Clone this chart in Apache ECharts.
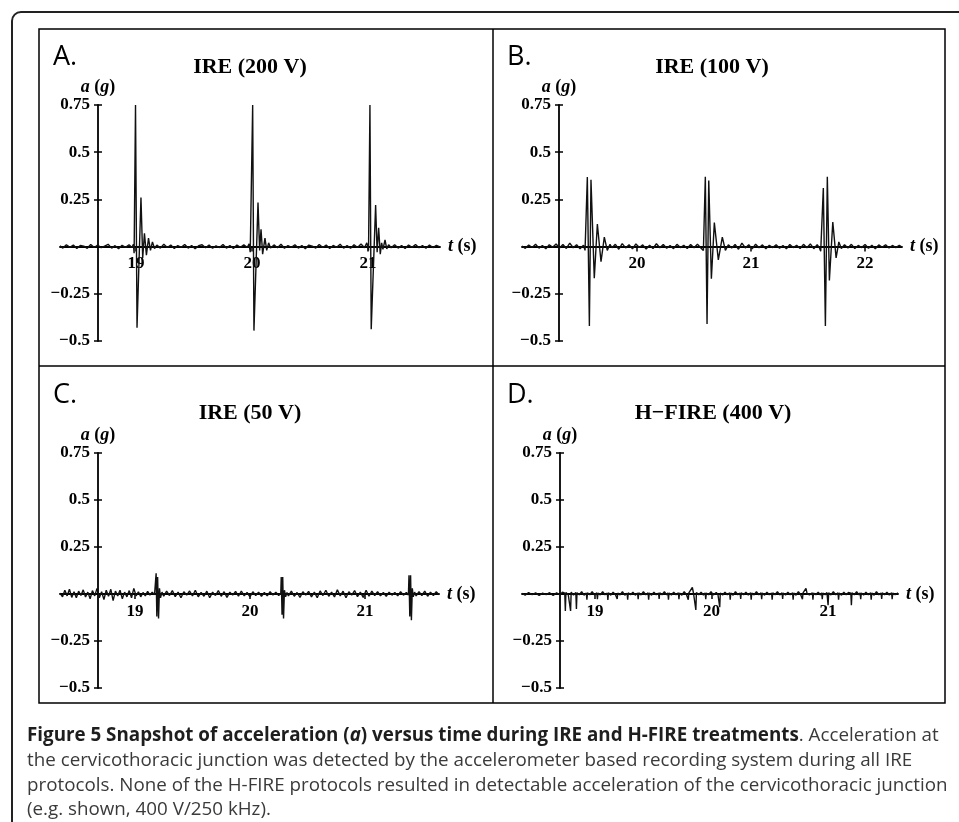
<!DOCTYPE html>
<html>
<head>
<meta charset="utf-8">
<script src="https://cdn.jsdelivr.net/npm/echarts@6/dist/echarts.min.js"></script>
<style>
html, body { margin: 0; padding: 0; background: #fff; }
#fig { width: 959px; height: 822px; }
</style>
</head>
<body>
<div id="fig"></div>
<script>
// panel texts
const panelLetters = ['A.', 'B.', 'C.', 'D.'];
const panelTitles = ['IRE (200 V)', 'IRE (100 V)', 'IRE (50 V)', 'H\u2212FIRE (400 V)'];
const timeTicks = [[19, 20, 21], [20, 21, 22], [19, 20, 21], [19, 20, 21]];
const accelMin = -0.5, accelMax = 0.75, accelStep = 0.25;

// acceleration traces [t (s), a (g)]
const accelA = [
  [18.345,0.004],[18.37,-0.008],[18.40,0.010],[18.43,-0.004],[18.46,0.008],[18.49,-0.010],[18.52,0.006],[18.55,0.002],
  [18.58,-0.009],[18.61,0.011],[18.64,-0.005],[18.67,0.008],[18.70,-0.006],[18.73,0.003],[18.76,0.012],[18.79,-0.008],
  [18.82,0.005],[18.85,-0.011],[18.88,0.007],[18.91,-0.004],[18.94,0.010],[18.965,-0.005],
  [18.978,0.012],[18.984,-0.035],[18.996,0.75],[19.009,-0.43],[19.043,0.26],[19.058,-0.06],[19.073,0.07],[19.09,-0.045],
  [19.108,0.045],[19.125,-0.02],[19.142,0.025],[19.16,-0.01],[19.18,0.008],
  [19.21,-0.008],[19.24,0.012],[19.27,-0.005],[19.30,0.008],[19.33,-0.010],[19.36,0.005],[19.39,-0.004],[19.42,0.011],
  [19.45,-0.008],[19.48,0.006],[19.51,-0.011],[19.54,0.005],[19.57,0.010],[19.60,-0.006],[19.63,0.008],[19.66,-0.009],
  [19.69,0.004],[19.72,-0.005],[19.75,0.011],[19.78,-0.008],[19.81,0.006],[19.84,-0.010],[19.87,0.008],[19.90,-0.004],
  [19.93,0.009],[19.96,-0.005],
  [19.975,0.015],[19.985,-0.03],[20.006,0.75],[20.017,-0.445],[20.052,0.233],[20.066,-0.02],[20.078,0.092],[20.092,-0.04],
  [20.112,0.045],[20.127,-0.02],[20.144,0.02],[20.16,-0.008],
  [20.19,0.009],[20.22,-0.006],[20.25,0.012],[20.28,-0.009],[20.31,0.005],[20.34,-0.004],[20.37,0.010],[20.40,-0.008],
  [20.43,0.006],[20.46,-0.011],[20.49,0.008],[20.52,0.002],[20.55,-0.008],[20.58,0.011],[20.61,-0.005],[20.64,0.008],
  [20.67,-0.010],[20.70,0.006],[20.73,-0.004],[20.76,0.012],[20.79,-0.008],[20.82,0.005],[20.85,-0.009],[20.88,0.010],
  [20.91,-0.005],[20.94,0.014],[20.97,-0.006],[20.99,0.02],
  [21.005,-0.02],[21.017,0.75],[21.028,-0.438],[21.066,0.22],[21.079,-0.03],[21.092,0.10],[21.106,-0.04],[21.118,0.02],
  [21.129,-0.015],[21.147,0.035],[21.162,-0.012],[21.178,0.01],
  [21.20,-0.006],[21.23,0.010],[21.26,-0.008],[21.29,0.006],[21.32,-0.010],[21.35,0.008],[21.38,-0.004],[21.41,0.011],
  [21.44,-0.006],[21.47,0.005],[21.50,-0.009],[21.53,0.008],[21.56,-0.005],[21.59,0.006],[21.62,-0.002]
];

const accelB = [
  [18.991,0.003],[19.02,-0.009],[19.05,0.008],[19.08,-0.005],[19.11,0.012],[19.14,-0.008],[19.17,0.006],[19.20,-0.012],
  [19.23,0.010],[19.26,-0.004],[19.29,0.014],[19.32,-0.007],[19.35,0.011],[19.38,-0.010],[19.41,0.018],[19.44,-0.006],
  [19.47,0.010],[19.50,-0.011],[19.53,0.007],
  [19.544,-0.02],[19.564,0.368],[19.582,-0.42],[19.596,0.354],[19.625,-0.168],[19.652,0.12],[19.684,-0.08],[19.713,0.05],
  [19.739,-0.02],[19.763,0.012],[19.78,-0.006],
  [19.81,0.012],[19.84,-0.014],[19.87,0.016],[19.90,-0.007],[19.93,0.010],[19.96,-0.012],[19.99,0.014],[20.02,-0.005],
  [20.05,0.009],[20.08,-0.013],[20.11,0.007],[20.14,-0.010],[20.17,0.015],[20.20,-0.006],[20.23,0.011],[20.26,-0.009],
  [20.29,0.006],[20.32,-0.011],[20.35,0.012],[20.38,-0.005],[20.41,0.007],[20.44,-0.010],[20.47,0.011],[20.50,-0.006],
  [20.53,0.013],[20.56,-0.007],
  [20.582,-0.02],[20.599,0.37],[20.614,-0.41],[20.629,0.35],[20.652,-0.17],[20.678,0.127],[20.713,-0.07],[20.748,0.05],
  [20.775,-0.02],[20.801,0.01],
  [20.83,-0.008],[20.86,0.011],[20.89,-0.014],[20.92,0.018],[20.95,-0.007],[20.98,0.010],[21.01,-0.012],[21.04,0.013],
  [21.07,-0.006],[21.10,0.009],[21.13,-0.011],[21.16,0.007],[21.19,-0.005],[21.22,0.010],[21.25,-0.009],[21.28,0.006],
  [21.31,-0.012],[21.34,0.011],[21.37,-0.005],[21.40,0.007],[21.43,-0.010],[21.46,0.012],[21.49,-0.006],[21.52,0.014],
  [21.55,-0.011],[21.58,0.010],[21.60,-0.007],
  [21.611,-0.025],[21.634,0.31],[21.652,-0.42],[21.669,0.37],[21.687,-0.18],[21.717,0.13],[21.746,-0.06],[21.77,0.025],
  [21.792,-0.01],
  [21.82,0.010],[21.85,-0.007],[21.88,0.012],[21.91,-0.010],[21.94,0.006],[21.97,-0.005],[22.00,0.011],[22.03,-0.009],
  [22.06,0.007],[22.09,-0.011],[22.12,0.009],[22.15,-0.004],[22.18,0.010],[22.21,-0.007],[22.24,0.006],[22.27,-0.005],
  [22.30,0.007],[22.324,-0.002]
];

const accelC = [
  [18.348,0.005],[18.37,-0.015],[18.39,0.02],[18.41,-0.01],[18.43,0.025],[18.45,-0.018],[18.47,0.012],[18.49,-0.02],
  [18.51,0.015],[18.53,-0.008],[18.55,0.022],[18.57,-0.016],[18.59,0.01],[18.61,-0.025],[18.63,0.018],[18.65,-0.01],
  [18.67,0.03],[18.69,-0.02],[18.71,0.012],[18.73,-0.03],[18.75,0.02],[18.77,-0.012],[18.79,0.025],[18.81,-0.035],
  [18.83,0.015],[18.85,-0.01],[18.87,0.02],[18.89,-0.025],[18.91,0.01],[18.93,-0.015],[18.95,0.018],[18.97,-0.02],
  [18.99,0.03],[19.01,-0.01],[19.03,0.012],[19.05,-0.015],[19.07,0.008],[19.09,-0.01],[19.11,0.014],[19.13,-0.006],
  [19.15,0.01],[19.17,-0.004],
  [19.18,0.005],[19.184,0.11],[19.19,-0.12],[19.197,0.09],[19.205,-0.13],[19.213,0.03],[19.222,-0.02],[19.235,0.01],
  [19.25,-0.012],[19.275,0.015],[19.30,-0.008],[19.325,0.018],[19.35,-0.014],[19.375,0.01],[19.40,-0.02],[19.425,0.012],
  [19.45,-0.006],[19.475,0.016],[19.50,-0.01],[19.525,0.02],[19.55,-0.015],[19.575,0.008],[19.60,-0.012],[19.625,0.015],
  [19.65,-0.02],[19.675,0.01],[19.70,-0.008],[19.725,0.018],[19.75,-0.012],[19.775,0.012],[19.80,-0.018],[19.825,0.01],
  [19.85,-0.006],[19.875,0.014],[19.90,-0.012],[19.925,0.016],[19.95,-0.01],[19.975,0.008],[20.00,-0.015],[20.025,0.012],
  [20.05,-0.008],[20.075,0.01],[20.10,-0.012],[20.125,0.008],[20.15,-0.01],[20.175,0.012],[20.20,-0.006],[20.225,0.01],
  [20.25,-0.008],
  [20.268,0.004],[20.272,0.09],[20.279,-0.11],[20.285,0.09],[20.292,-0.13],[20.30,0.02],[20.31,-0.015],[20.322,0.008],
  [20.335,-0.01],[20.36,0.015],[20.385,-0.012],[20.41,0.008],[20.435,-0.018],[20.46,0.012],[20.485,-0.006],[20.51,0.014],
  [20.535,-0.015],[20.56,0.01],[20.585,-0.02],[20.61,0.016],[20.635,-0.008],[20.66,0.02],[20.685,-0.012],[20.71,0.01],
  [20.735,-0.016],[20.76,0.022],[20.785,-0.01],[20.81,0.015],[20.835,-0.02],[20.86,0.012],[20.885,-0.006],[20.91,0.018],
  [20.935,-0.014],[20.96,0.01],[20.985,-0.018],[21.01,0.02],[21.035,-0.012],[21.06,0.015],[21.085,-0.008],[21.11,0.012],
  [21.135,-0.01],[21.16,0.008],[21.185,-0.012],[21.21,0.01],[21.235,-0.006],[21.26,0.008],[21.285,-0.01],[21.31,0.012],
  [21.335,-0.006],[21.36,0.008],
  [21.378,-0.005],[21.383,0.1],[21.39,-0.12],[21.397,0.1],[21.404,-0.14],[21.412,0.03],[21.42,-0.015],[21.432,0.01],
  [21.445,-0.01],[21.47,0.012],[21.495,-0.008],[21.52,0.015],[21.545,-0.012],[21.57,0.01],[21.595,-0.008],[21.62,0.012],
  [21.644,-0.004]
];

const accelD = [
  [18.373,0.004],[18.40,-0.006],[18.43,0.008],[18.46,-0.004],[18.49,0.006],[18.52,-0.008],[18.55,0.005],[18.58,-0.003],
  [18.61,0.007],[18.64,-0.008],[18.67,0.006],[18.70,-0.004],[18.72,0.01],
  [18.74,0.004],[18.745,-0.09],[18.75,0.008],[18.77,-0.004],[18.785,0.006],[18.79,-0.09],[18.795,0.01],[18.815,-0.006],
  [18.835,0.008],[18.84,-0.08],[18.845,0.006],[18.865,-0.004],[18.885,0.012],[18.905,-0.006],
  [18.925,0.005],[18.93,-0.03],[18.935,0.006],[18.955,-0.004],[18.975,0.012],[18.995,-0.005],
  [19.015,0.006],[19.02,-0.028],[19.025,0.005],[19.045,-0.005],[19.065,0.012],[19.085,-0.004],
  [19.105,0.005],[19.11,-0.032],[19.115,0.006],[19.135,-0.006],[19.155,0.01],[19.175,-0.004],
  [19.185,0.006],[19.19,-0.026],[19.195,0.005],[19.215,-0.005],[19.235,0.012],[19.255,-0.006],
  [19.275,0.004],[19.28,-0.03],[19.285,0.006],[19.305,-0.004],[19.325,0.01],[19.345,-0.006],
  [19.365,0.005],[19.37,-0.028],[19.375,0.006],[19.395,-0.005],[19.415,0.012],[19.435,-0.004],
  [19.455,0.006],[19.46,-0.03],[19.465,0.005],[19.485,-0.006],[19.505,0.01],[19.525,-0.004],
  [19.545,0.005],[19.55,-0.026],[19.555,0.006],[19.575,-0.004],[19.595,0.012],[19.615,-0.005],
  [19.625,0.006],[19.63,-0.03],[19.635,0.005],[19.655,-0.005],[19.675,0.01],[19.695,-0.004],
  [19.715,0.006],[19.72,-0.028],[19.725,0.005],[19.745,-0.006],[19.765,0.012],[19.785,-0.004],
  [19.795,0.005],[19.80,-0.03],[19.805,0.006],[19.82,0.012],[19.835,0.035],[19.845,0.004],
  [19.86,0.006],[19.865,-0.085],[19.87,0.008],[19.89,-0.004],[19.91,0.01],[19.93,-0.005],
  [19.945,0.006],[19.95,-0.028],[19.955,0.005],[19.975,-0.004],[19.995,0.012],[20.015,-0.005],[20.04,0.008],[20.055,-0.004],
  [20.065,0.006],[20.07,-0.07],[20.075,0.005],[20.095,-0.005],[20.115,0.01],[20.135,-0.004],
  [20.155,0.006],[20.16,-0.03],[20.165,0.005],[20.185,-0.006],[20.205,0.012],[20.225,-0.004],
  [20.245,0.005],[20.25,-0.026],[20.255,0.006],[20.275,-0.004],[20.295,0.01],[20.315,-0.005],
  [20.335,0.006],[20.34,-0.03],[20.345,0.005],[20.365,-0.005],[20.385,0.012],[20.405,-0.004],
  [20.425,0.006],[20.43,-0.028],[20.435,0.005],[20.455,-0.006],[20.475,0.01],[20.495,-0.004],
  [20.515,0.005],[20.52,-0.03],[20.525,0.006],[20.545,-0.004],[20.565,0.012],[20.585,-0.005],
  [20.605,0.006],[20.61,-0.026],[20.615,0.005],[20.635,-0.005],[20.655,0.01],[20.675,-0.004],
  [20.695,0.006],[20.70,-0.03],[20.705,0.005],[20.725,-0.006],[20.745,0.012],[20.765,-0.004],
  [20.775,0.005],[20.78,-0.028],[20.785,0.006],[20.80,0.012],[20.81,0.03],[20.82,0.002],[20.84,-0.005],
  [20.865,0.006],[20.87,-0.03],[20.875,0.005],[20.895,-0.004],[20.915,0.01],[20.935,-0.005],
  [20.945,0.006],[20.95,-0.028],[20.955,0.005],[20.975,-0.004],[20.99,0.008],
  [20.995,0.004],[21.00,-0.06],[21.005,0.006],[21.025,-0.005],[21.045,0.012],[21.065,-0.004],
  [21.085,0.006],[21.09,-0.03],[21.095,0.005],[21.115,-0.006],[21.135,0.01],[21.155,-0.004],[21.175,0.008],
  [21.195,0.005],[21.20,-0.06],[21.205,0.006],[21.225,-0.004],[21.245,0.012],[21.265,-0.005],
  [21.275,0.006],[21.28,-0.028],[21.285,0.005],[21.305,-0.005],[21.325,0.01],[21.345,-0.004],
  [21.365,0.006],[21.37,-0.03],[21.375,0.005],[21.395,-0.006],[21.415,0.012],[21.435,-0.004],
  [21.455,0.005],[21.46,-0.026],[21.465,0.006],[21.485,-0.004],[21.505,0.01],[21.525,-0.005],
  [21.545,0.006],[21.55,-0.028],[21.555,0.005],[21.575,-0.004],[21.60,0.006]
];

// caption lines
const captionLines = [
  '{b|Figure 5 Snapshot of acceleration (}{bi|a}{b|) versus time during IRE and H-FIRE treatments}{r|. Acceleration at}',
  '{r|the cervicothoracic junction was detected by the accelerometer based recording system during all IRE}',
  '{r|protocols. None of the H-FIRE protocols resulted in detectable acceleration of the cervicothoracic junction}',
  '{r|(e.g. shown, 400 V/250 kHz).}'
];

// where each panel sits (px) and its time window
const layout = [
  { left: 60,  top: 105, width: 380, height: 236, yAxisAt: 98,  tMin: 18.345, tMax: 21.621, titleX: 250, titleY: 67,  letterX: 53,  letterY: 57 },
  { left: 522, top: 105, width: 380, height: 236, yAxisAt: 559, tMin: 18.991, tMax: 22.324, titleX: 712, titleY: 67,  letterX: 507, letterY: 57 },
  { left: 60,  top: 453, width: 379, height: 235, yAxisAt: 98,  tMin: 18.348, tMax: 21.644, titleX: 250, titleY: 413, letterX: 53,  letterY: 395 },
  { left: 522, top: 453, width: 376, height: 235, yAxisAt: 560, tMin: 18.373, tMax: 21.600, titleX: 713, titleY: 413, letterX: 507, letterY: 395 }
];

const traces = [accelA, accelB, accelC, accelD];
const serif = "'Liberation Serif', 'Times New Roman', serif";
const sans = "'Open Sans', 'Noto Sans', sans-serif";

var chart = echarts.init(document.getElementById('fig'));

var grids = [], xAxes = [], yAxes = [], series = [], graphics = [];

layout.forEach(function (p, i) {
  grids.push({ left: p.left, top: p.top, width: p.width, height: p.height });

  // the time axis runs through a = 0, so lift it from the grid bottom
  var zeroLift = p.height * (0 - accelMin) / (accelMax - accelMin);

  xAxes.push({
    gridIndex: i,
    type: 'value',
    min: p.tMin,
    max: p.tMax,
    position: 'bottom',
    offset: -zeroLift,
    name: '{i|t} (s)',
    nameLocation: 'end',
    nameGap: 8,
    nameTextStyle: {
      fontFamily: serif, fontWeight: 'bold', fontSize: 18, color: '#000',
      rich: { i: { fontFamily: serif, fontWeight: 'bold', fontStyle: 'italic', fontSize: 18, color: '#000' } }
    },
    axisLine: { onZero: false, lineStyle: { color: '#000', width: 1.8 } },
    axisTick: { show: true, customValues: timeTicks[i], length: 5, lineStyle: { color: '#000', width: 1.5 } },
    axisLabel: { customValues: timeTicks[i], margin: 9, fontFamily: serif, fontWeight: 'bold', fontSize: 17, color: '#000' },
    splitLine: { show: false }
  });

  var yBase = {
    gridIndex: i,
    type: 'value',
    min: accelMin,
    max: accelMax,
    interval: accelStep,
    position: 'left',
    offset: p.left - p.yAxisAt,
    splitLine: { show: false }
  };
  yAxes.push(Object.assign({}, yBase, {
    name: '{i|a} ({i|g})',
    nameLocation: 'end',
    nameGap: 5,
    nameTextStyle: {
      fontFamily: serif, fontWeight: 'bold', fontSize: 18, color: '#000',
      rich: { i: { fontFamily: serif, fontWeight: 'bold', fontStyle: 'italic', fontSize: 18, color: '#000' } }
    },
    axisLine: { show: true, onZero: false, lineStyle: { color: '#000', width: 1.8 } },
    axisTick: { show: true, length: 4, lineStyle: { color: '#000', width: 1.5 } },
    axisLabel: {
      margin: 8, fontFamily: serif, fontWeight: 'bold', fontSize: 17, color: '#000',
      formatter: function (v) { return v === 0 ? '' : String(v).replace('-', '\u2212'); }
    }
  }));
  // second copy only for the ticks that cross into the plot
  yAxes.push(Object.assign({}, yBase, {
    axisLine: { show: false, onZero: false },
    axisTick: { show: true, inside: true, length: 4, lineStyle: { color: '#000', width: 1.5 } },
    axisLabel: { show: false }
  }));

  series.push({
    type: 'line',
    xAxisIndex: i,
    yAxisIndex: 2 * i,
    data: traces[i],
    symbol: 'none',
    lineStyle: { color: '#111', width: 1.4 },
    z: 3
  });

  graphics.push({
    type: 'text', x: p.letterX, y: p.letterY,
    style: { text: panelLetters[i], font: '27px ' + sans, fill: '#000', textAlign: 'left', textVerticalAlign: 'middle', align: 'left', verticalAlign: 'middle' }
  });
  graphics.push({
    type: 'text', x: p.titleX, y: p.titleY,
    style: { text: panelTitles[i], font: 'bold 22px ' + serif, fill: '#000', textAlign: 'center', textVerticalAlign: 'middle', align: 'center', verticalAlign: 'middle' }
  });
});

// frame round the figure and the panel grid
graphics.push({ type: 'rect', shape: { x: 12, y: 12, width: 1000, height: 900, r: 9 }, style: { fill: 'none', stroke: '#222', lineWidth: 2 } });
graphics.push({ type: 'rect', shape: { x: 39, y: 29, width: 906, height: 674 }, style: { fill: 'none', stroke: '#000', lineWidth: 1.5 } });
graphics.push({ type: 'line', shape: { x1: 493, y1: 29, x2: 493, y2: 703 }, style: { stroke: '#000', lineWidth: 1.5 } });
graphics.push({ type: 'line', shape: { x1: 39, y1: 366, x2: 945, y2: 366 }, style: { stroke: '#000', lineWidth: 1.5 } });

var captionRich = {
  b: { fontFamily: sans, fontWeight: 'bold', fontSize: 18.8, fill: '#1e1e1e' },
  bi: { fontFamily: sans, fontWeight: 'bold', fontStyle: 'italic', fontSize: 18.8, fill: '#1e1e1e' },
  r: { fontFamily: sans, fontSize: 18.8, fill: '#3a3a3a' }
};
captionLines.forEach(function (line, k) {
  graphics.push({
    type: 'text', x: 27, y: 736 + k * 24.6,
    style: { text: line, rich: captionRich, textAlign: 'left', textVerticalAlign: 'middle', align: 'left', verticalAlign: 'middle' }
  });
});

chart.setOption({
  animation: false,
  backgroundColor: '#fff',
  grid: grids,
  xAxis: xAxes,
  yAxis: yAxes,
  series: series,
  graphic: graphics
});
</script>
</body>
</html>
